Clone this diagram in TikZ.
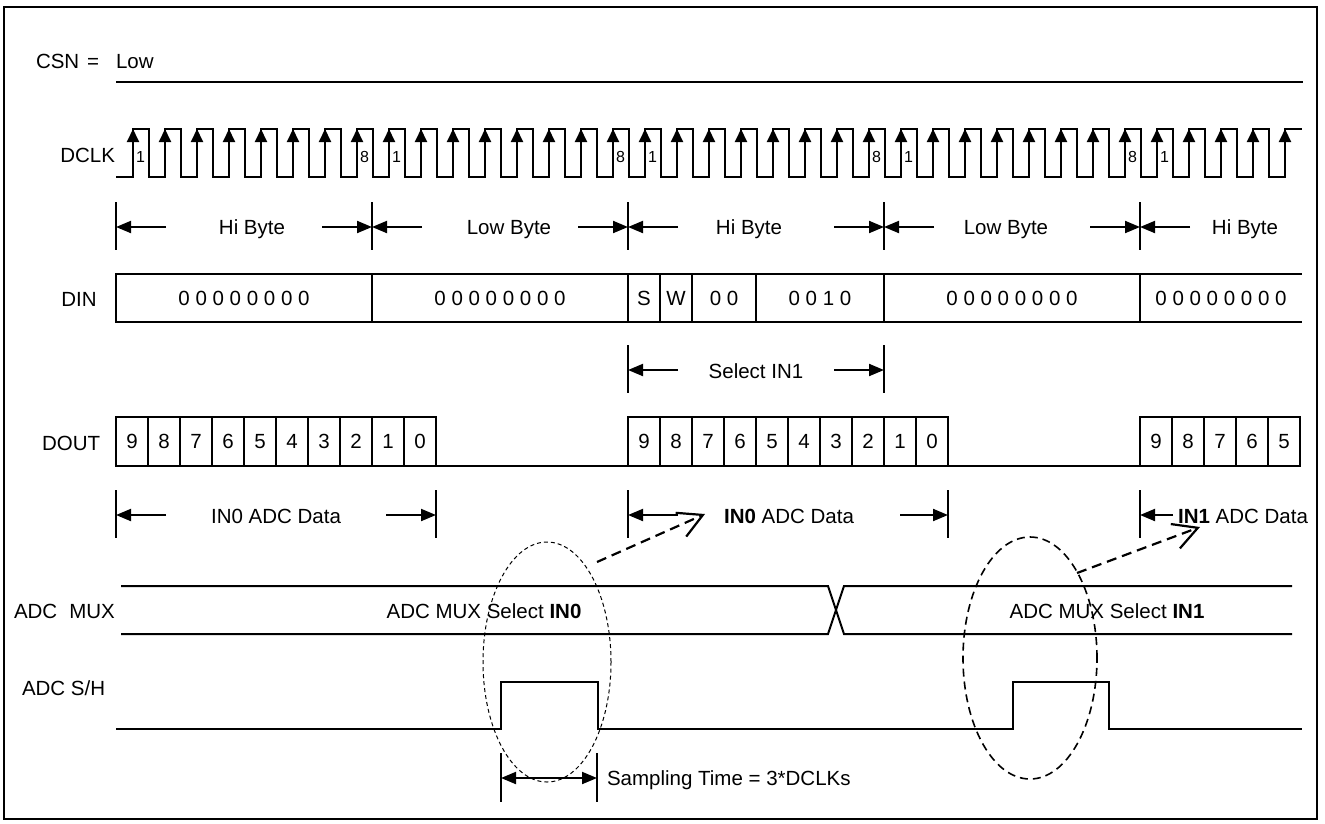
\documentclass[tikz,border=0pt]{standalone}
\usepackage{fontspec}
\setmainfont{Liberation Sans}
\usetikzlibrary{arrows.meta}
\begin{document}
\begin{tikzpicture}[x=1pt,y=-1pt,
  sig/.style={line width=2pt},
  tick/.style={line width=1.5pt},
  dimarrow/.style={line width=2pt,-{Triangle[length=15pt,width=12pt]}},
  dimboth/.style={line width=2pt,{Triangle[length=15pt,width=12pt]}-{Triangle[length=15pt,width=12pt]}},
  clkarrow/.style={line width=2pt,-{Triangle[length=13pt,width=12pt]}},
  lbl/.style={font=\fontsize{20.5}{24}\selectfont, inner sep=0pt, outer sep=0pt},
  small/.style={font=\fontsize{16}{18}\selectfont, inner sep=0pt, outer sep=0pt, anchor=base},
  cell/.style={draw, line width=1.6pt, minimum height=49pt, inner sep=0pt, outer sep=0pt,
    anchor=north west, font=\fontsize{20.5}{24}\selectfont},
  seg/.style={draw, line width=1.6pt, minimum height=48pt, inner sep=0pt, outer sep=0pt,
    anchor=north west, font=\fontsize{20.5}{24}\selectfont},
  ell1/.style={line width=1pt, dash pattern=on 4pt off 3pt},
  ell2/.style={line width=1.6pt, dash pattern=on 8pt off 5pt},
  dasharr/.style={line width=2.2pt, dash pattern=on 10pt off 6pt, -{Straight Barb[length=24pt,width=26pt]}}
]
\useasboundingbox (0,0) rectangle (1325,823);
\draw[line width=2.5pt] (4,7) rectangle (1317,819);

% ---------- CSN ----------
\node[lbl, anchor=base west] (csn) at (36,68) {CSN};
\node[lbl, anchor=base] (csneq) at (93,68) {=};
\node[lbl, anchor=base west] (csnlow) at (116,68) {Low};
\draw[sig] (116,82) -- (1303,82);

% ---------- DCLK ----------
\node[lbl, anchor=base east] (dclk) at (115,162) {DCLK};
\draw[sig] (116,177) -- (133,177)
  \foreach \k in {0,...,35} { -- ++(0,-48) -- ++(16,0) -- ++(0,48) -- ++(16,0) }
  -- ++(0,-48) -- ++(17,0);
\foreach \k in {0,...,36} \draw[clkarrow] ({133+32*\k},165) -- ({133+32*\k},129);
\foreach \k/\t in {0/1,7/8,8/1,15/8,16/1,23/8,24/1,31/8,32/1}
  \node[small] (cn\k) at ({140.5+32*\k},162) {\t};

% ---------- byte markers ----------
\foreach \x [count=\i] in {116,372,628,884,1140} {
  \coordinate (bt\i) at (\x,227);
  \draw[tick] (\x,202) -- (\x,250);
  \draw[dimarrow] ({\x+50},227) -- (bt\i);
}
\foreach \x [count=\i from 2] in {372,628,884,1140}
  \draw[dimarrow] ({\x-50},227) -- (bt\i);
\node[lbl, anchor=base] (b1) at (252,234) {Hi Byte};
\node[lbl, anchor=base] (b2) at (509,234) {Low Byte};
\node[lbl, anchor=base] (b3) at (749,234) {Hi Byte};
\node[lbl, anchor=base] (b4) at (1006,234) {Low Byte};
\node[lbl, anchor=base] (b5) at (1245,234) {Hi Byte};

% ---------- DIN ----------
\node[lbl, anchor=base] (din) at (79,306) {DIN};
\node[seg, minimum width=256pt] (s1) at (116,274) {0 0 0 0 0 0 0 0};
\node[seg, minimum width=256pt] (s2) at (372,274) {0 0 0 0 0 0 0 0};
\node[seg, minimum width=32pt] (s3) at (628,274) {S};
\node[seg, minimum width=32pt] (s4) at (660,274) {W};
\node[seg, minimum width=64pt] (s5) at (692,274) {0 0};
\node[seg, minimum width=128pt] (s6) at (756,274) {0 0 1 0};
\node[seg, minimum width=256pt] (s7) at (884,274) {0 0 0 0 0 0 0 0};
\draw[line width=1.6pt] (1140,274) -- (1302,274) (1140,322) -- (1302,322);
\node[lbl] (s8) at (1221,298) {0 0 0 0 0 0 0 0};

% ---------- Select IN1 ----------
\coordinate (sl) at (628,370);
\coordinate (sr) at (884,370);
\draw[tick] (628,345) -- (628,393) (884,345) -- (884,393);
\draw[dimarrow] (678,370) -- (sl);
\draw[dimarrow] (834,370) -- (sr);
\node[lbl, anchor=base] (selin1) at (756,378) {Select IN1};

% ---------- DOUT ----------
\node[lbl, anchor=base west] (dout) at (42,450) {DOUT};
\foreach \d [count=\i from 0] in {9,8,7,6,5,4,3,2,1,0} {
  \node[cell, minimum width=32pt] (da\i) at ({116+32*\i},417) {\d};
  \node[cell, minimum width=32pt] (db\i) at ({628+32*\i},417) {\d};
}
\foreach \d [count=\i from 0] in {9,8,7,6,5}
  \node[cell, minimum width=32pt] (dc\i) at ({1140+32*\i},417) {\d};
\draw[sig] (da9.south east) -- (db0.south west);
\draw[sig] (db9.south east) -- (dc0.south west);

% ---------- ADC data markers ----------
\coordinate (a1) at (116,515);
\coordinate (a2) at (436,515);
\coordinate (a3) at (628,515);
\coordinate (a4) at (948,515);
\coordinate (a5) at (1140,515);
\foreach \x in {116,436,628,948,1140} \draw[tick] (\x,490) -- (\x,538);
\draw[dimarrow] (166,515) -- (a1);
\draw[dimarrow] (386,515) -- (a2);
\draw[dimarrow] (678,515) -- (a3);
\draw[dimarrow] (900,515) -- (a4);
\draw[dimarrow] (1173,515) -- (a5);
\node[lbl, anchor=base] (d1) at (276,523) {IN0 ADC Data};
\node[lbl, anchor=base] (d2) at (789,523) {\textbf{IN0} ADC Data};
\node[lbl, anchor=base] (d3) at (1243,523) {\textbf{IN1} ADC Data};

% ---------- ADC MUX ----------
\node[lbl, anchor=base west] (mux) at (14,618) {ADC\hspace{12pt}MUX};
\draw[sig] (121,586) -- (828,586) -- (844,634) -- (1292,634);
\draw[sig] (121,634) -- (828,634) -- (844,586) -- (1292,586);
\node[lbl, anchor=base] (mux0) at (484,618) {ADC MUX Select \textbf{IN0}};
\node[lbl, anchor=base] (mux1) at (1107,618) {ADC MUX Select \textbf{IN1}};

% ---------- ADC S/H ----------
\node[lbl, anchor=base west] (sh) at (22,695) {ADC S/H};
\draw[sig] (116,729) -- (501,729) -- (501,682) -- (598,682) -- (598,729)
  -- (1013,729) -- (1013,682) -- (1109,682) -- (1109,729) -- (1302,729);

% ---------- Sampling time ----------
\coordinate (sp1) at (501,778);
\coordinate (sp2) at (597,778);
\draw[tick] (501,753) -- (501,802) (597,753) -- (597,802);
\draw[dimboth] (sp1) -- (sp2);
\node[lbl, anchor=base west] (samp) at (607,785) {Sampling Time = 3*DCLKs};

% ---------- ellipses and dashed arrows ----------
\draw[ell1] (547,662) ellipse [x radius=64pt, y radius=120pt];
\draw[ell2] (1030,658) ellipse [x radius=67pt, y radius=121pt];
\coordinate (e1s) at (597,562);
\coordinate (e1t) at (705,514);
\coordinate (e2s) at (1077,573);
\coordinate (e2t) at (1200,527);
\draw[dasharr] (e1s) -- (e1t);
\draw[dasharr] (e2s) -- (e2t);
\end{tikzpicture}
\end{document}
